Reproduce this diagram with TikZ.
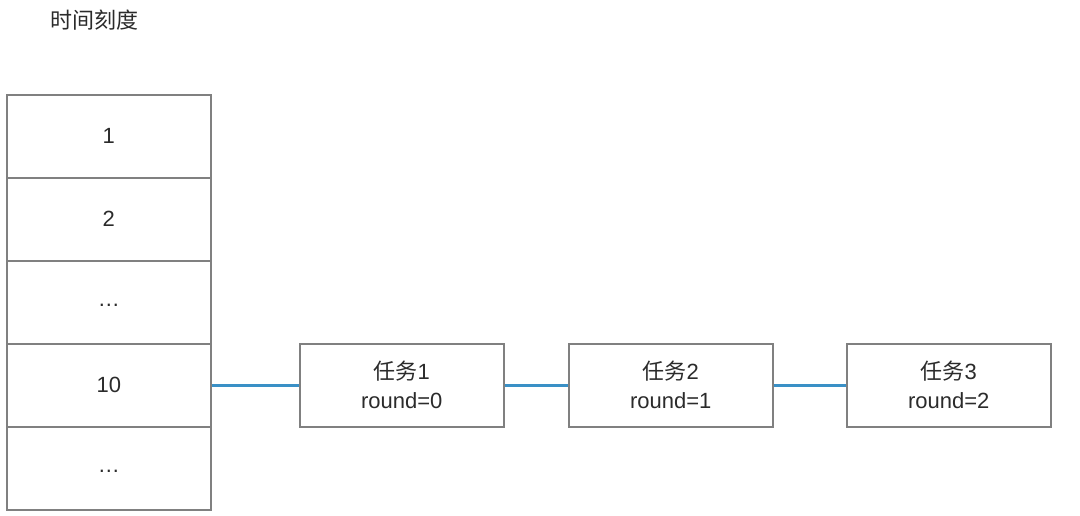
\documentclass[tikz,border=0pt]{standalone}
\usepackage{fontspec}
\setmainfont{Liberation Sans}
\newfontfamily\cjk{Noto Sans CJK SC}
\definecolor{boxgray}{HTML}{808080}
\definecolor{linkblue}{HTML}{3A90C6}
\definecolor{txt}{HTML}{2B2B2B}
\begin{document}
\begin{tikzpicture}[x=1pt,y=-1pt,
  cell/.style={draw=boxgray,line width=1.6pt,minimum width=204pt,minimum height=83pt,inner sep=0pt,text=txt,font=\fontsize{22}{28}\selectfont,anchor=north west},
  task/.style={draw=boxgray,line width=1.6pt,minimum width=204pt,minimum height=83pt,inner sep=0pt,text=txt,align=center,font=\fontsize{22}{29}\selectfont,anchor=north west},
  link/.style={draw=linkblue,line width=3pt}]
\useasboundingbox[fill=white] (0,0) rectangle (1080,516);
\node[text=txt,font=\cjk\fontsize{22}{26}\selectfont,anchor=west] (title) at (47,20) {时间刻度};
\node[cell] (c1) at (6,94) {1};
\node[cell] (c2) at (6,177) {2};
\node[cell] (c3) at (6,260) {\smash{\raisebox{-4pt}{\ldots}}};
\node[cell] (c4) at (6,343) {10};
\node[cell] (c5) at (6,426) {\smash{\raisebox{-4pt}{\ldots}}};
\node[task] (t1) at (299,343) {{\cjk 任务}1\\round=0};
\node[task] (t2) at (568,343) {{\cjk 任务}2\\round=1};
\node[task] (t3) at (846,343) {{\cjk 任务}3\\round=2};
\draw[link] (c4.east) -- (t1.west);
\draw[link] (t1.east) -- (t2.west);
\draw[link] (t2.east) -- (t3.west);
\end{tikzpicture}
\end{document}
